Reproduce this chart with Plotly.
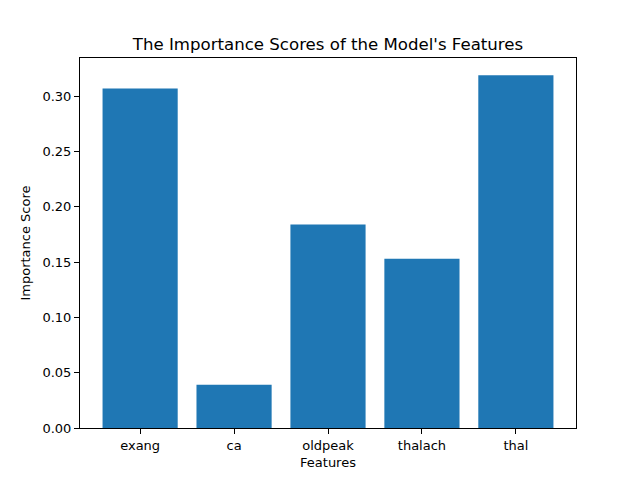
import plotly.graph_objects as go

features = ["exang", "ca", "oldpeak", "thalach", "thal"]
scores = [0.307, 0.039, 0.184, 0.153, 0.319]
y_ticks = [0.00, 0.05, 0.10, 0.15, 0.20, 0.25, 0.30]

fig = go.Figure()
fig.add_trace(go.Bar(
    x=list(range(len(features))),
    y=scores,
    width=0.8,
    marker=dict(color="#1f77b4", line=dict(width=0)),
))

axis_style = dict(
    showline=True, linecolor="black", linewidth=1, mirror=True,
    ticks="outside", ticklen=5, tickwidth=1, tickcolor="black",
    showgrid=False, zeroline=False,
    tickfont=dict(size=13, color="black"),
)

fig.update_xaxes(
    range=[-0.64, 4.64],
    tickmode="array", tickvals=list(range(len(features))), ticktext=features,
    title=dict(text="Features", font=dict(size=13, color="black"), standoff=6),
    **axis_style,
)
fig.update_yaxes(
    range=[0, 0.3345],
    tickmode="array", tickvals=y_ticks, ticktext=[f"{v:.2f}" for v in y_ticks],
    title=dict(text="Importance Score", font=dict(size=13, color="black"), standoff=8),
    **axis_style,
)

# the page body adds an 8px offset, so margins are shifted to compensate
fig.update_layout(
    width=640, height=480,
    margin=dict(l=72, r=72, t=50, b=60),
    paper_bgcolor="white", plot_bgcolor="white",
    font=dict(family="DejaVu Sans", color="black"),
    title=dict(text="The Importance Scores of the Model's Features",
               x=0.5, xanchor="center", xref="paper",
               y=1, yref="paper", yanchor="bottom", pad=dict(b=8),
               font=dict(size=16.6, color="black")),
    showlegend=False,
)

fig.write_html("out.html")
